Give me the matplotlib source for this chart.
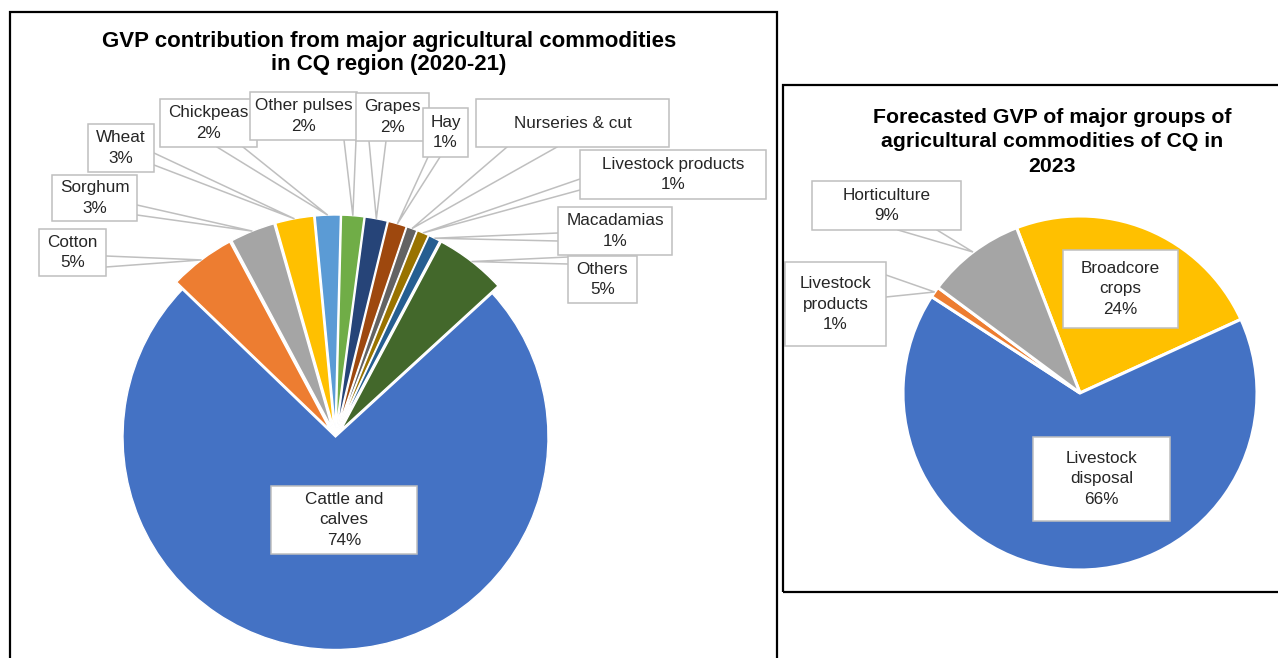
import numpy as np
import matplotlib
matplotlib.use("Agg")
import matplotlib.pyplot as plt
from matplotlib.patches import Rectangle

plt.rcParams['font.family'] = ['Liberation Sans', 'DejaVu Sans']

W, H = 1278, 658

# GVP contribution by commodity, CQ region 2020-21 (% of total)
commodities = ["Cattle and calves", "Cotton", "Sorghum", "Wheat", "Chickpeas",
               "Other pulses", "Grapes", "Hay", "Nurseries & cut",
               "Livestock products", "Macadamias", "Others"]
commodity_share = [74.0, 5.0, 3.4, 2.9, 1.9, 1.7, 1.7, 1.4, 0.8, 0.9, 0.9, 5.4]
commodity_colors = ["#4472C4", "#ED7D31", "#A5A5A5", "#FFC000", "#5B9BD5",
                    "#70AD47", "#264478", "#9E480E", "#636363", "#997300",
                    "#255E91", "#43682B"]
commodity_display = {"Cattle and calves": "Cattle and\ncalves"}
value_hidden = {"Nurseries & cut"}

# Forecast GVP by commodity group, CQ 2023 (% of total)
groups = ["Broadcore crops", "Livestock disposal", "Livestock products", "Horticulture"]
group_share = [24, 66, 1, 9]
group_colors = ["#FFC000", "#4472C4", "#ED7D31", "#A5A5A5"]
group_display = {"Broadcore crops": "Broadcore\ncrops",
                 "Livestock disposal": "Livestock\ndisposal",
                 "Livestock products": "Livestock\nproducts"}

title_left = ["GVP contribution from major agricultural commodities",
              "in CQ region (2020-21)"]
title_right = ["Forecasted GVP of major groups of",
               "agricultural commodities of CQ in", "2023"]

# ---- layout (pixel coordinates, origin top-left) ----
left_boxes = {
    "Cattle and calves": (271, 486, 417, 554),
    "Cotton": (39, 229, 106, 276),
    "Sorghum": (52, 175, 137, 221),
    "Wheat": (88, 124, 154, 172),
    "Chickpeas": (160, 99, 257, 147),
    "Other pulses": (250, 92, 357, 140),
    "Grapes": (356, 93, 429, 141),
    "Hay": (423, 108, 468, 157),
    "Nurseries & cut": (476, 99, 669, 147),
    "Livestock products": (580, 150, 766, 199),
    "Macadamias": (558, 207, 672, 255),
    "Others": (568, 256, 637, 303),
}
left_callouts = {
    "Cotton": ((106, 256), (106, 267)),
    "Sorghum": ((137, 205), (137, 215)),
    "Wheat": ((154, 153), (154, 165)),
    "Chickpeas": ((217, 147), (243, 147)),
    "Other pulses": ((344, 140), (356, 140)),
    "Grapes": ((369, 141), (386, 141)),
    "Hay": ((428, 157), (440, 157)),
    "Nurseries & cut": ((507, 147), (557, 147)),
    "Livestock products": ((580, 179), (580, 190)),
    "Macadamias": ((558, 233), (558, 241)),
    "Others": ((568, 257), (568, 264)),
}
right_boxes = {
    "Broadcore crops": (1063, 250, 1178, 328),
    "Livestock disposal": (1033, 437, 1170, 521),
    "Livestock products": (785, 262, 886, 346),
    "Horticulture": (812, 181, 961, 230),
}
right_callouts = {
    "Horticulture": ((898, 230), (937, 230)),
    "Livestock products": ((886, 275), (886, 297)),
}

LABEL_SIZE = 12.3
LABEL_COLOR = "#262626"
BOX_EDGE = "#BFBFBF"


def Y(y):
    return H - y


def tip_of(w):
    mid = np.deg2rad((w.theta1 + w.theta2) / 2)
    cx, cy = w.center
    return cx + w.r * np.cos(mid), cy + w.r * np.sin(mid)


def pct(v):
    return f"{int(round(v))}%"


fig = plt.figure(figsize=(W / 100, H / 100), dpi=100)
ax = fig.add_axes([0, 0, 1, 1])

# Left pie: small commodities pulled slightly outward
explode_left = [0 if n == "Cattle and calves" else 9.5 for n in commodities]
wl, _ = ax.pie(commodity_share, colors=commodity_colors, startangle=42.5,
               counterclock=False, center=(335.5, Y(437)), radius=212.5,
               explode=explode_left, frame=True,
               wedgeprops=dict(edgecolor="white", linewidth=1.0))

# Right pie
wr, _ = ax.pie(group_share, colors=group_colors, startangle=111,
               counterclock=False, center=(1080, Y(393)), radius=177,
               frame=True, wedgeprops=dict(edgecolor="white", linewidth=2.2))

ax.set_xlim(0, W)
ax.set_ylim(0, H)
ax.set_aspect("equal")
ax.axis("off")


def draw_labels(names, values, wedges, boxes, callouts, display, hidden):
    for i, (name, val, w) in enumerate(zip(names, values, wedges)):
        z = 10 + 2 * i
        if name in callouts:
            (b1x, b1y), (b2x, b2y) = callouts[name]
            tx, ty = tip_of(w)
            ax.plot([b1x, tx, b2x], [Y(b1y), ty, Y(b2y)], color=BOX_EDGE,
                    lw=1.1, zorder=4, solid_joinstyle="miter")
        x0, y0, x1, y1 = boxes[name]
        ax.add_patch(Rectangle((x0, Y(y1)), x1 - x0, y1 - y0, facecolor="white",
                               edgecolor=BOX_EDGE, lw=1.1, zorder=z))
        text = display.get(name, name)
        if name not in hidden:
            text += "\n" + pct(val)
        ax.text((x0 + x1) / 2, Y((y0 + y1) / 2), text, ha="center", va="center",
                multialignment="center", fontsize=LABEL_SIZE, color=LABEL_COLOR,
                linespacing=1.45, zorder=z + 1)


draw_labels(commodities, commodity_share, wl, left_boxes, left_callouts,
            commodity_display, value_hidden)
draw_labels(groups, group_share, wr, right_boxes, right_callouts,
            group_display, set())

# Titles
for line, base in zip(title_left, [47, 70]):
    ax.text(389, Y(base), line, ha="center", va="baseline", fontsize=16,
            fontweight="bold", color="black", zorder=30)
for line, base in zip(title_right, [123, 147, 172]):
    ax.text(1052, Y(base), line, ha="center", va="baseline", fontsize=15.3,
            fontweight="bold", color="black", zorder=30)

# Panel frames
ax.add_patch(Rectangle((9.5, Y(720)), 767, 720 - 12, fill=False,
                       edgecolor="black", lw=1.6, zorder=40))
ax.add_patch(Rectangle((783, Y(592)), 600, 592 - 85, fill=False,
                       edgecolor="black", lw=1.6, zorder=40))

fig.savefig("out.png", dpi=100)
